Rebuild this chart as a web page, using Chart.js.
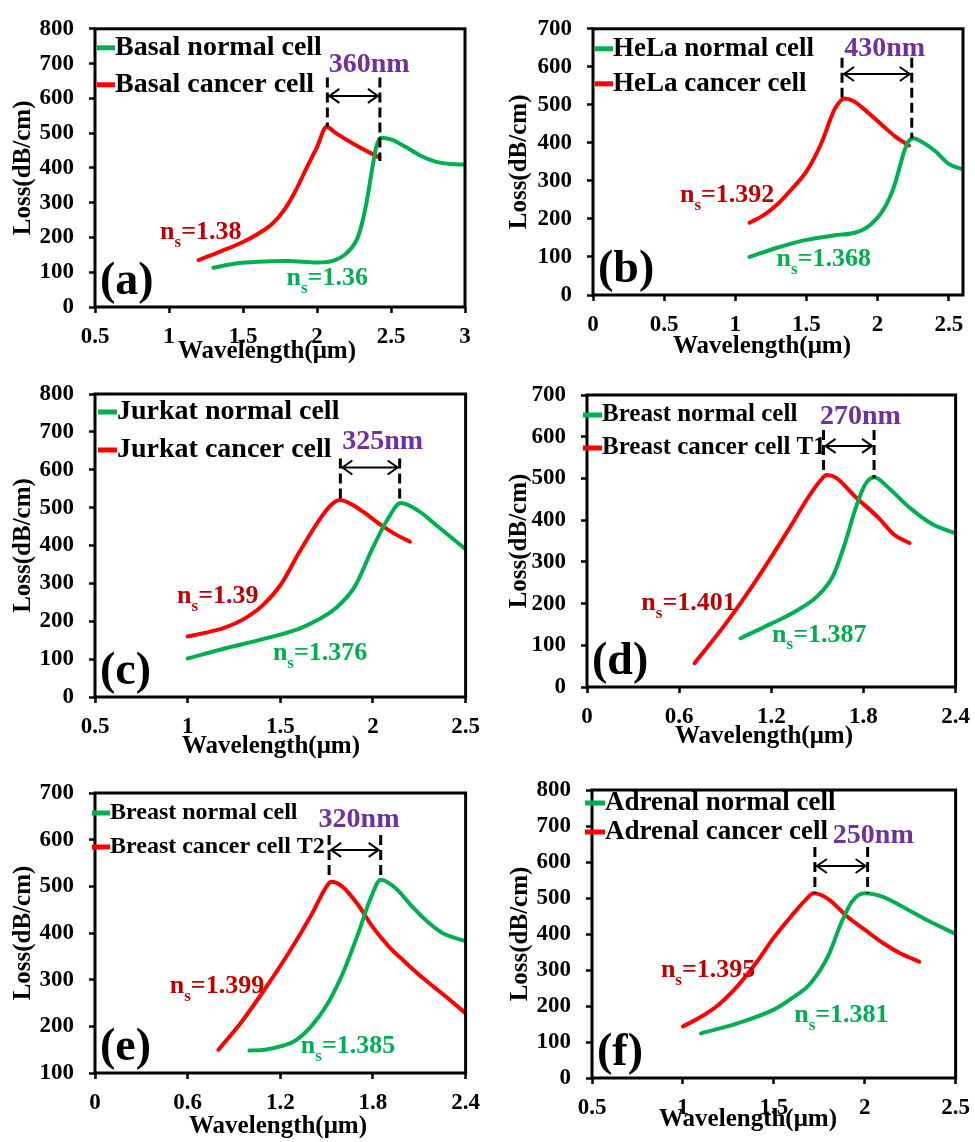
<!DOCTYPE html>
<html>
<head>
<meta charset="utf-8">
<script src="https://cdn.jsdelivr.net/npm/chart.js@4.4.1/dist/chart.umd.min.js"></script>
<style>
  body { margin: 0; background: #fff; width: 975px; height: 1142px; position: relative; overflow: hidden; }
  canvas { position: absolute; }
</style>
</head>
<body>
<canvas id="panelA"></canvas>
<canvas id="panelB"></canvas>
<canvas id="panelC"></canvas>
<canvas id="panelD"></canvas>
<canvas id="panelE"></canvas>
<canvas id="panelF"></canvas>
<script>
// ---- data: [wavelength (um), loss (dB/cm)] ----
const basalNormal = [[1.3,113],[1.45,125],[1.6,130],[1.8,132],[2.0,128],[2.1,132],[2.2,155],[2.28,205],[2.33,290],[2.37,390],[2.4,460],[2.43,487],[2.5,482],[2.6,460],[2.7,435],[2.8,418],[2.9,411],[3.0,410]];
const basalCancer = [[1.2,135],[1.35,160],[1.5,187],[1.6,210],[1.7,240],[1.78,280],[1.85,330],[1.93,400],[2.0,460],[2.065,518],[2.12,502],[2.25,468],[2.42,430]];

const helaNormal = [[1.1,100],[1.3,125],[1.5,145],[1.7,157],[1.85,165],[1.95,185],[2.05,230],[2.12,290],[2.18,370],[2.21,400],[2.25,412],[2.3,405],[2.4,380],[2.5,345],[2.6,330]];
const helaCancer = [[1.1,190],[1.2,210],[1.3,240],[1.4,280],[1.5,325],[1.6,395],[1.7,490],[1.77,517],[1.83,510],[1.9,490],[2.04,444],[2.12,418],[2.22,393]];

const jurkatNormal = [[1.0,102],[1.2,128],[1.4,152],[1.6,180],[1.7,203],[1.8,235],[1.9,290],[2.0,395],[2.08,470],[2.15,512],[2.25,490],[2.35,450],[2.5,390]];
const jurkatCancer = [[1.0,160],[1.1,170],[1.2,183],[1.3,205],[1.4,240],[1.5,295],[1.6,380],[1.7,460],[1.77,505],[1.82,520],[1.88,510],[1.95,488],[2.04,455],[2.12,430],[2.2,410]];

const breastT1Normal = [[1.0,117],[1.2,152],[1.35,180],[1.5,218],[1.6,265],[1.68,345],[1.75,430],[1.81,485],[1.87,503],[1.95,482],[2.1,430],[2.25,390],[2.4,368]];
const breastT1Cancer = [[0.7,57],[0.9,150],[1.1,255],[1.3,370],[1.45,460],[1.52,495],[1.56,508],[1.62,502],[1.75,455],[1.9,405],[2.0,365],[2.1,345]];

const breastT2Normal = [[1.0,148],[1.1,150],[1.2,157],[1.3,170],[1.4,200],[1.5,245],[1.6,310],[1.7,395],[1.78,470],[1.85,514],[1.95,495],[2.05,458],[2.15,425],[2.25,400],[2.4,382]];
const breastT2Cancer = [[0.8,150],[0.95,210],[1.1,280],[1.25,355],[1.4,438],[1.5,500],[1.53,510],[1.6,500],[1.7,462],[1.8,412],[1.9,372],[2.0,340],[2.1,310],[2.2,283],[2.3,256],[2.4,228]];

const adrenalNormal = [[1.1,124],[1.3,152],[1.5,190],[1.6,222],[1.7,262],[1.8,340],[1.87,430],[1.93,490],[2.0,513],[2.1,503],[2.2,478],[2.35,437],[2.5,400]];
const adrenalCancer = [[1.0,143],[1.1,170],[1.2,205],[1.3,255],[1.4,318],[1.5,390],[1.6,452],[1.67,492],[1.72,513],[1.8,497],[1.9,450],[2.0,412],[2.1,375],[2.2,345],[2.3,323]];

const normalNames = ['Basal normal cell', 'HeLa normal cell', 'Jurkat normal cell', 'Breast normal cell', 'Breast normal cell', 'Adrenal normal cell'];
const cancerNames = ['Basal cancer cell', 'HeLa cancer cell', 'Jurkat cancer cell', 'Breast cancer cell T1', 'Breast cancer cell T2', 'Adrenal cancer cell'];
const nsNormal = ['1.36', '1.368', '1.376', '1.387', '1.385', '1.381'];
const nsCancer = ['1.38', '1.392', '1.39', '1.401', '1.399', '1.395'];
const peakShift = ['360nm', '430nm', '325nm', '270nm', '320nm', '250nm'];
const peakCancer = [2.07, 1.75, 1.824, 1.54, 1.516, 1.726];
const peakNormal = [2.425, 2.24, 2.144, 1.869, 1.85, 2.016];
const panelLetters = ['(a)', '(b)', '(c)', '(d)', '(e)', '(f)'];

// axis ranges [min, max, step]
const xRanges = [[0.5, 3, 0.5], [0, 2.6, 0.5], [0.5, 2.5, 0.5], [0, 2.4, 0.6], [0, 2.4, 0.6], [0.5, 2.5, 0.5]];
const yRanges = [[0, 800, 100], [0, 700, 100], [0, 800, 100], [0, 700, 100], [100, 700, 100], [0, 800, 100]];

const FONT = "'Liberation Serif', 'Times New Roman', serif";
const GREEN = '#00B050', RED = '#FF0000', DARKRED = '#C00000', PURPLE = '#7030A0';

// page layout of each panel (pixels)
const panels = [
  { id: 'panelA', normal: basalNormal, cancer: basalCancer,
    canvas: [0, 0, 490, 380], area: [95, 20, 465, 307], yTitleX: 24, xTitle: [267, 352],
    legendRows: [19, 56], legendLine: [2, 20], legendSize: 28,
    dashTop: 660, dashBottom: [518, 420], arrowY: 607, shiftPos: [2.352, 696],
    nsCancerPos: [0.94, 196], nsNormalPos: [1.794, 62] },
  { id: 'panelB', normal: helaNormal, cancer: helaCancer,
    canvas: [485, 0, 495, 380], area: [593, 22, 963, 295], yTitleX: 520, xTitle: [762, 347],
    legendRows: [20, 55], legendLine: [2, 20], legendSize: 27,
    dashTop: 624, dashBottom: [517, 412], arrowY: 581, shiftPos: [2.05, 647],
    nsCancerPos: [0.611, 244], nsNormalPos: [1.29, 77] },
  { id: 'panelC', normal: jurkatNormal, cancer: jurkatCancer,
    canvas: [0, 365, 490, 400], area: [95, 394, 470, 697], yTitleX: 24, xTitle: [271, 747],
    legendRows: [18, 56], legendLine: [3, 22], legendSize: 28,
    dashTop: 630, dashBottom: [520, 512], arrowY: 606, shiftPos: [2.052, 674],
    nsCancerPos: [0.943, 247], nsNormalPos: [1.46, 98] },
  { id: 'panelD', normal: breastT1Normal, cancer: breastT1Cancer,
    canvas: [485, 365, 495, 400], area: [587, 395, 958, 687], yTitleX: 520, xTitle: [764, 737],
    legendRows: [20, 53], legendLine: [-4, 15], legendSize: 25,
    dashTop: 616, dashBottom: [508, 500], arrowY: 578, shiftPos: [1.78, 648],
    nsCancerPos: [0.354, 185], nsNormalPos: [1.205, 109] },
  { id: 'panelE', normal: breastT2Normal, cancer: breastT2Cancer,
    canvas: [0, 760, 490, 382], area: [95, 793, 467, 1073], yTitleX: 24, xTitle: [278, 1127],
    legendRows: [20, 54], legendLine: [-3, 15], legendSize: 24,
    dashTop: 610, dashBottom: [514, 514], arrowY: 578, shiftPos: [1.71, 642],
    nsCancerPos: [0.484, 271], nsNormalPos: [1.333, 142] },
  { id: 'panelF', normal: adrenalNormal, cancer: adrenalCancer,
    canvas: [485, 760, 495, 382], area: [592, 790, 960, 1078], yTitleX: 521, xTitle: [748, 1120],
    legendRows: [13, 42], legendLine: [-7, 13], legendSize: 27,
    dashTop: 642, dashBottom: [513, 513], arrowY: 589, shiftPos: [2.047, 672],
    nsCancerPos: [0.879, 281], nsNormalPos: [1.612, 156] }
];

// n with subscript s, then "=value"
function drawNs(ctx, value, px, py, color, size) {
  ctx.fillStyle = color;
  ctx.textAlign = 'left';
  ctx.textBaseline = 'alphabetic';
  ctx.font = `bold ${size}px ${FONT}`;
  ctx.fillText('n', px, py);
  let w = ctx.measureText('n').width;
  ctx.font = `bold ${Math.round(size * 0.65)}px ${FONT}`;
  ctx.fillText('s', px + w, py + size * 0.3);
  w += ctx.measureText('s').width;
  ctx.font = `bold ${size}px ${FONT}`;
  ctx.fillText('=' + value, px + w, py);
}

function arrowHead(ctx, x, y, dir) {
  ctx.beginPath();
  ctx.moveTo(x - dir * 10, y - 7);
  ctx.lineTo(x, y);
  ctx.lineTo(x - dir * 10, y + 7);
  ctx.stroke();
}

function decorPlugin(p, i) {
  return {
    id: 'decor' + i,
    afterDatasetsDraw(chart) {
      const { ctx, chartArea: a, scales: { x, y } } = chart;
      ctx.save();

      // plot frame
      ctx.strokeStyle = '#000';
      ctx.lineWidth = 3;
      ctx.strokeRect(a.left, a.top, a.right - a.left, a.bottom - a.top);

      // legend inside the plot
      [[GREEN, normalNames[i]], [RED, cancerNames[i]]].forEach(([c, txt], k) => {
        const ly = a.top + p.legendRows[k];
        ctx.strokeStyle = c;
        ctx.lineWidth = 5;
        ctx.beginPath();
        ctx.moveTo(a.left + p.legendLine[0], ly);
        ctx.lineTo(a.left + p.legendLine[1], ly);
        ctx.stroke();
        ctx.fillStyle = '#000';
        ctx.font = `bold ${p.legendSize}px ${FONT}`;
        ctx.textAlign = 'left';
        ctx.textBaseline = 'middle';
        ctx.fillText(txt, a.left + p.legendLine[1], ly);
      });

      // dashed peak markers
      const x1 = x.getPixelForValue(peakCancer[i]);
      const x2 = x.getPixelForValue(peakNormal[i]);
      const yTop = y.getPixelForValue(p.dashTop);
      ctx.strokeStyle = '#000';
      ctx.lineWidth = 3;
      ctx.setLineDash([10, 5]);
      [[x1, p.dashBottom[0]], [x2, p.dashBottom[1]]].forEach(([px, yb]) => {
        ctx.beginPath();
        ctx.moveTo(px, yTop);
        ctx.lineTo(px, y.getPixelForValue(yb));
        ctx.stroke();
      });
      ctx.setLineDash([]);

      // double arrow
      const ay = y.getPixelForValue(p.arrowY);
      ctx.lineWidth = 2;
      ctx.beginPath();
      ctx.moveTo(x1 + 2, ay);
      ctx.lineTo(x2 - 2, ay);
      ctx.stroke();
      arrowHead(ctx, x1 + 2, ay, -1);
      arrowHead(ctx, x2 - 2, ay, 1);

      // shift label
      ctx.fillStyle = PURPLE;
      ctx.font = `bold 28px ${FONT}`;
      ctx.textAlign = 'center';
      ctx.textBaseline = 'middle';
      ctx.fillText(peakShift[i], x.getPixelForValue(p.shiftPos[0]), y.getPixelForValue(p.shiftPos[1]));

      // refractive index labels
      drawNs(ctx, nsCancer[i], x.getPixelForValue(p.nsCancerPos[0]), y.getPixelForValue(p.nsCancerPos[1]), DARKRED, 26);
      drawNs(ctx, nsNormal[i], x.getPixelForValue(p.nsNormalPos[0]), y.getPixelForValue(p.nsNormalPos[1]), GREEN, 26);

      // panel letter
      ctx.fillStyle = '#000';
      ctx.font = `bold 46px ${FONT}`;
      ctx.textAlign = 'left';
      ctx.textBaseline = 'alphabetic';
      ctx.fillText(panelLetters[i], a.left + 5, a.bottom - 13);

      // x axis title
      ctx.font = `bold 25px ${FONT}`;
      ctx.textAlign = 'center';
      ctx.textBaseline = 'middle';
      ctx.fillText('Wavelength(\u03bcm)', p.xTitle[0] - p.canvas[0], p.xTitle[1] - p.canvas[1]);

      ctx.restore();
    }
  };
}

function makeChart(p, i) {
  const [cx, cy, cw, ch] = p.canvas;
  const [L, T, R, B] = p.area;
  const el = document.getElementById(p.id);
  el.width = cw; el.height = ch;
  el.style.left = cx + 'px'; el.style.top = cy + 'px';
  el.style.width = cw + 'px'; el.style.height = ch + 'px';

  const padLeft = p.yTitleX - cx - 15;
  const yWidth = L - cx - padLeft;
  const xHeight = 50;
  const padBottom = ch - (B - cy) - xHeight;

  const tickFont = { family: FONT, size: 23, weight: 'bold' };
  const fmt = v => String(Math.round(v * 10) / 10);
  const grid = { drawOnChartArea: false, drawTicks: true, tickLength: 6, tickWidth: 2.5, tickColor: '#000' };

  return new Chart(el, {
    type: 'line',
    data: {
      datasets: [
        { label: normalNames[i], data: p.normal.map(([x, y]) => ({ x, y })), borderColor: GREEN, backgroundColor: GREEN },
        { label: cancerNames[i], data: p.cancer.map(([x, y]) => ({ x, y })), borderColor: RED, backgroundColor: RED }
      ]
    },
    options: {
      responsive: false,
      animation: false,
      layout: { padding: { left: padLeft, top: T - cy, right: cx + cw - R, bottom: padBottom } },
      elements: {
        point: { radius: 0 },
        line: { borderWidth: 4, cubicInterpolationMode: 'monotone', borderCapStyle: 'round' }
      },
      plugins: { legend: { display: false }, tooltip: { enabled: false } },
      scales: {
        x: {
          type: 'linear',
          min: xRanges[i][0], max: xRanges[i][1],
          ticks: { stepSize: xRanges[i][2], includeBounds: false, autoSkip: false, maxRotation: 0,
                   padding: 10, color: '#000', font: tickFont, callback: fmt },
          grid: grid,
          border: { display: false },
          afterFit: s => { s.height = xHeight; }
        },
        y: {
          min: yRanges[i][0], max: yRanges[i][1],
          ticks: { stepSize: yRanges[i][2], includeBounds: false, padding: 15, color: '#000', font: tickFont },
          grid: grid,
          border: { display: false },
          title: { display: true, text: 'Loss(dB/cm)', color: '#000', padding: 0,
                   font: { family: FONT, size: 25, weight: 'bold' } },
          afterFit: s => { s.width = yWidth; }
        }
      }
    },
    plugins: [decorPlugin(p, i)]
  });
}

panels.forEach(makeChart);
</script>
</body>
</html>
